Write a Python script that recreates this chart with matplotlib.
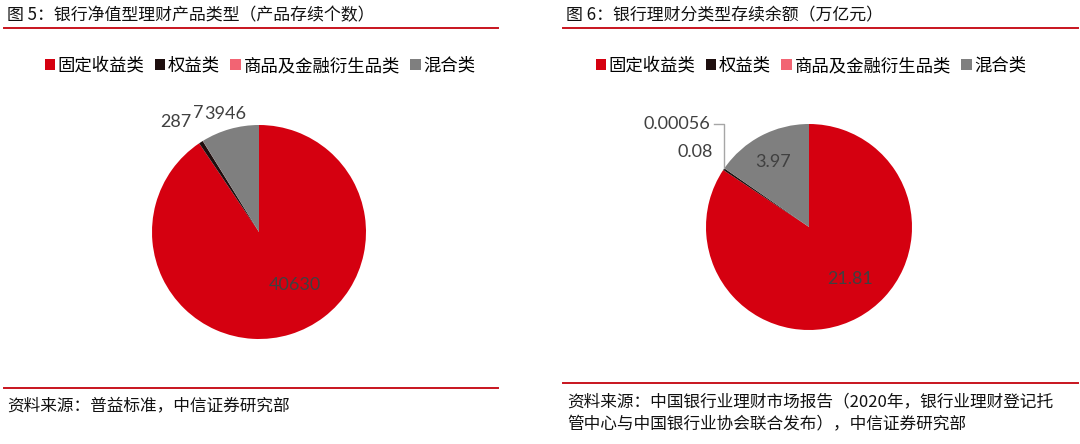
import numpy as np
import matplotlib
matplotlib.use("Agg")
import matplotlib.pyplot as plt
from matplotlib.patches import Patch
from matplotlib.lines import Line2D

plt.rcParams['font.family'] = ['Noto Sans CJK SC', 'DejaVu Sans']

# data
categories = ['固定收益类', '权益类', '商品及金融衍生品类', '混合类']
counts = [40630, 287, 7, 3946]
count_labels = ['40630', '287', '7', '3946']
balances = [21.81, 0.08, 0.00056, 3.97]
balance_labels = ['21.81', '0.08', '0.00056', '3.97']

title_left = '图 5：银行净值型理财产品类型（产品存续个数）'
title_right = '图 6：银行理财分类型存续余额（万亿元）'
source_left = '资料来源：普益标准，中信证券研究部'
source_right = ('资料来源：中国银行业理财市场报告（2020年，银行业理财登记托\n'
                '管中心与中国银行业协会联合发布），中信证券研究部')

colors = ['#D50010', '#1E0F0F', '#F26473', '#7F7F7F']
num_color = '#404040'
W, H = 1080, 444

fig = plt.figure(figsize=(W / 100, H / 100), dpi=100)


def px(x, y):
    return x / W, 1 - y / H


def pie_axes(cx, cy, r):
    ax = fig.add_axes([(cx - r) / W, (H - cy - r) / H, 2 * r / W, 2 * r / H])
    return ax


def draw_pie(ax, values, labels, pos):
    wedges, _ = ax.pie(values, colors=colors, startangle=90, counterclock=False,
                       wedgeprops=dict(linewidth=0))
    ax.set_xlim(-1, 1)
    ax.set_ylim(-1, 1)
    ax.set_aspect('equal')
    ax.axis('off')
    for w, lab, p in zip(wedges, labels, pos):
        if p is None:
            continue
        r, dth = p
        th = np.deg2rad((w.theta1 + w.theta2) / 2 + dth)
        ax.text(r * np.cos(th), r * np.sin(th), lab, ha='center', va='center',
                fontsize=13, color=num_color, family='Lato')
    return wedges


def header(x0, x1, ytitle, yline, text):
    fig.text(*px(x0 + 3, ytitle), text, fontsize=12.2, color='#111111', va='center',
             ha='left', fontweight='medium')
    fig.add_artist(Line2D([x0 / W, x1 / W], [1 - yline / H] * 2, color='#C8141E', lw=1.4))


def legend(cx, cy):
    handles = [Patch(facecolor=c, edgecolor='none') for c in colors]
    fig.legend(handles, categories, loc='center', bbox_to_anchor=px(cx, cy), ncol=4,
               frameon=False, fontsize=12.5, handlelength=0.6, handleheight=0.6,
               handletextpad=0.15, columnspacing=0.6, borderpad=0)


# left panel
header(4, 498, 15, 28, title_left)
legend(260, 66)
axl = pie_axes(259, 232, 107)
draw_pie(axl, counts, count_labels,
         [(0.6, 17), (1.29, 4), (1.25, -4.5), (1.15, 0)])
fig.add_artist(Line2D([4 / W, 498 / W], [1 - 388 / H] * 2, color='#C8141E', lw=1.4))
fig.text(*px(7, 406), source_left, fontsize=12, color='#111111', va='center', ha='left')

# right panel
header(563, 1078, 15, 28, title_right)
legend(811, 66)
axr = pie_axes(809, 227, 103)
wr = draw_pie(axr, balances, balance_labels,
              [(0.64, 10), (1.32, 0.8), None, (0.72, 1)])
# leader line for the tiny slice
th = np.deg2rad((wr[2].theta1 + wr[2].theta2) / 2)
ex, ey = np.cos(th), np.sin(th)
axr.plot([-0.92, ex, ex], [1.0, 1.0, ey], color='#A6A6A6', lw=1, clip_on=False)
axr.text(-0.96, 1.0, balance_labels[2], ha='right', va='center', fontsize=13,
         color=num_color, family='Lato')
fig.add_artist(Line2D([563 / W, 1078 / W], [1 - 383 / H] * 2, color='#C8141E', lw=1.4))
fig.text(*px(567, 413), source_right, fontsize=12, color='#111111', va='center', ha='left',
         linespacing=1.45)

fig.savefig('out.png', dpi=100)
